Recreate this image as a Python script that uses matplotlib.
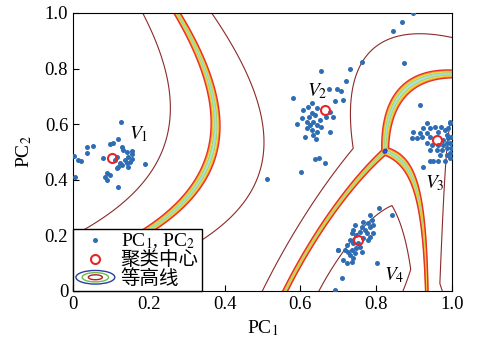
import numpy as np
import matplotlib
matplotlib.use('Agg')
import matplotlib.pyplot as plt
from matplotlib.patches import Ellipse
from matplotlib.legend_handler import HandlerBase

plt.rcParams['font.family'] = ['Liberation Serif', 'Noto Sans CJK SC']
plt.rcParams['mathtext.fontset'] = 'stix'

# ---------------- data ----------------
v1_x = [0.003,0.014,0.020,0.005,0.036,0.052,0.036,0.080,0.098,0.106,0.120,0.128,0.133,0.142,0.155,
        0.157,0.146,0.137,0.124,0.120,0.128,0.142,0.150,0.115,0.111,0.089,0.084,0.098,0.089,0.120,
        0.190,0.146,0.115,0.155,0.127]
v1_y = [0.486,0.471,0.466,0.411,0.519,0.522,0.495,0.477,0.529,0.534,0.546,0.519,0.507,0.501,0.505,
        0.493,0.483,0.471,0.459,0.447,0.453,0.459,0.465,0.483,0.471,0.423,0.411,0.417,0.399,0.375,
        0.457,0.447,0.441,0.474,0.609]
v2_x = [0.654,0.580,0.676,0.697,0.706,0.720,0.731,0.762,0.691,0.713,0.630,0.621,0.643,0.608,0.630,
        0.624,0.638,0.678,0.687,0.604,0.590,0.617,0.634,0.625,0.643,0.630,0.643,0.612,0.634,0.678,
        0.651,0.639,0.648,0.665,0.602,0.513,0.845,0.867,0.896,0.873,0.915,0.617,0.655,0.640,0.668]
v2_y = [0.793,0.693,0.725,0.725,0.721,0.755,0.797,0.825,0.685,0.687,0.675,0.663,0.657,0.651,0.639,
        0.627,0.633,0.645,0.627,0.621,0.600,0.609,0.609,0.597,0.597,0.579,0.573,0.555,0.561,0.573,
        0.615,0.474,0.477,0.459,0.429,0.402,0.935,0.969,0.999,0.819,0.669,0.585,0.590,0.545,0.625]
v3_x = [0.933,0.995,0.924,0.942,0.955,0.972,0.981,0.990,0.898,0.916,0.933,0.964,0.986,0.894,0.907,
        0.920,0.942,0.977,0.990,0.997,0.933,0.946,0.964,0.977,0.986,0.995,0.942,0.960,0.973,0.986,
        0.997,0.968,0.986,0.995,0.942,0.951,0.964,0.981,0.995,0.924,0.995]
v3_y = [0.603,0.603,0.585,0.585,0.591,0.591,0.579,0.585,0.573,0.567,0.567,0.573,0.561,0.549,0.549,
        0.555,0.555,0.543,0.549,0.555,0.531,0.525,0.525,0.525,0.531,0.531,0.507,0.507,0.507,0.513,
        0.513,0.489,0.489,0.495,0.469,0.469,0.469,0.469,0.477,0.445,0.609]
v4_x = [0.808,0.841,0.784,0.788,0.779,0.766,0.762,0.784,0.792,0.770,0.744,0.740,0.758,0.775,0.792,
        0.735,0.748,0.784,0.766,0.779,0.753,0.740,0.731,0.722,0.757,0.748,0.735,0.726,0.717,0.700,
        0.744,0.762,0.731,0.713,0.722,0.735,0.740,0.709,0.691,0.801,0.699]
v4_y = [0.297,0.273,0.273,0.255,0.243,0.249,0.231,0.231,0.237,0.219,0.237,0.219,0.213,0.207,0.207,
        0.207,0.201,0.195,0.189,0.183,0.171,0.171,0.183,0.165,0.159,0.153,0.147,0.141,0.147,0.147,
        0.135,0.141,0.129,0.112,0.100,0.106,0.118,0.046,0.004,0.100,0.147]
centers_x = [0.102, 0.665, 0.960, 0.751]
centers_y = [0.477, 0.651, 0.543, 0.183]
cluster_labels = ['$V_1$', '$V_2$', '$V_3$', '$V_4$']

# shape of each cluster's membership score (fitted to the contours in the picture)
shape_log_a = [1.7785, 1.8164, 2.3671, 2.6701]
shape_c     = [-0.4828, -3.1029, 2.2903, -5.3656]
shape_log_d = [1.9118, 0.6580, 1.8263, 1.5036]
shape_b     = [3.3551, 3.1009, 3.2600, 3.2903]
outer_level = 2.3640

tick_vals = [0, 0.2, 0.4, 0.6, 0.8, 1.0]
tick_text = ['0', '0.2', '0.4', '0.6', '0.8', '1.0']
legend_text = [r'PC$_1$, PC$_2$', '聚类中心', '等高线']


def scores(X, Y):
    out = []
    for i in range(4):
        a = np.exp(shape_log_a[i]); c = shape_c[i]; d = np.exp(shape_log_d[i])
        dx = X - centers_x[i]; dy = Y - centers_y[i]
        u = a*dx + c*dy; v = d*dy
        out.append(-0.5*(u*u + v*v) + shape_b[i])
    return np.stack(out, -1)


# ---------------- figure ----------------
fig = plt.figure(figsize=(4.78, 3.5), dpi=100)
ax = fig.add_axes([0.1527, 0.1686, 0.7929, 0.7943])

g = np.linspace(-0.02, 1.02, 800)
GX, GY = np.meshgrid(g, g)
SS = np.sort(scores(GX, GY), -1)
M = SS[..., -1] - SS[..., -2]          # margin between best and second cluster
M2 = SS[..., -2] - SS[..., -3]
band = np.array([0.015, 0.035, 0.055, 0.075, 0.095])*outer_level
ax.contour(GX, GY, M, levels=band,
           colors=['#a6dde6', '#9ed36a', '#f4e23c', '#f6a02c', '#e8302a'],
           linewidths=1.0, zorder=1)
ax.contour(GX, GY, np.maximum(M, M2), levels=[0.03*outer_level], colors=['#2a3fd0'],
           linewidths=1.2, zorder=1)
ax.contour(GX, GY, M, levels=[outer_level], colors=['#8b2a2a'], linewidths=0.8, zorder=1)

blue = '#2e6db4'
for xs, ys in [(v1_x, v1_y), (v2_x, v2_y), (v3_x, v3_y), (v4_x, v4_y)]:
    ax.plot(xs, ys, 'o', color=blue, ms=3.6, mew=0, zorder=3)
ax.plot(centers_x, centers_y, 'o', mfc='none', mec='#e8262a', ms=6.5, mew=1.5, zorder=4)

label_pos = [(0.148, 0.545), (0.618, 0.70), (0.93, 0.37), (0.82, 0.04)]
for lab, (tx, ty) in zip(cluster_labels, label_pos):
    ax.text(tx, ty, lab, fontsize=14)

ax.set_xlim(0, 1); ax.set_ylim(0, 1)
ax.set_xticks(tick_vals); ax.set_xticklabels(tick_text)
ax.set_yticks(tick_vals); ax.set_yticklabels(tick_text)
ax.tick_params(direction='in', length=4, labelsize=13.5, top=False, right=False)
ax.set_xlabel(r'PC$_1$', fontsize=14)
ax.set_ylabel(r'PC$_2$', fontsize=14, labelpad=8)


class ContourHandler(HandlerBase):
    def create_artists(self, legend, orig, xd, yd, w, h_, fontsize, trans):
        cx = xd + w/2; cy = yd + h_/2
        arts = []
        for sc, col in [(1.0, '#2b3fa0'), (0.68, '#6abf4b'), (0.36, '#b22222')]:
            arts.append(Ellipse((cx, cy), w*sc, h_*1.0*sc, fill=False, edgecolor=col, lw=1.0,
                                transform=trans))
        return arts


h1, = ax.plot([], [], 'o', color=blue, ms=3.6, mew=0)
h2, = ax.plot([], [], 'o', mfc='none', mec='#e8262a', ms=6.5, mew=1.5)
h3 = Ellipse((0, 0), 1, 1)
leg = ax.legend([h1, h2, h3], legend_text,
                handler_map={h3: ContourHandler()}, loc='lower left', bbox_to_anchor=(0, 0),
                borderaxespad=0, fancybox=False, edgecolor='black', framealpha=1, fontsize=14,
                handlelength=2.0, handletextpad=0.3, labelspacing=0.0, borderpad=0.15)
leg.get_frame().set_linewidth(1.0)
fig.savefig('out.png', dpi=100)
